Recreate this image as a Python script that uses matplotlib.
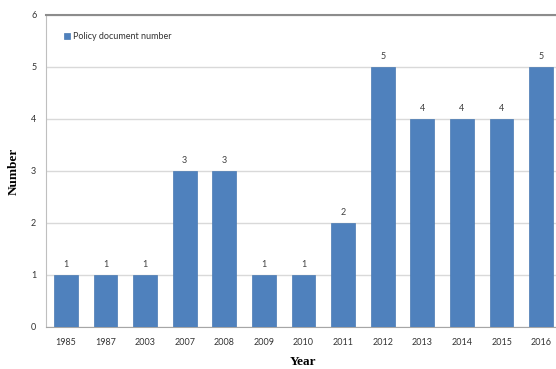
import matplotlib
matplotlib.use('Agg')
import matplotlib.pyplot as plt

# Policy documents issued per year
years = ['1985', '1987', '2003', '2007', '2008', '2009', '2010',
         '2011', '2012', '2013', '2014', '2015', '2016']
counts = [1, 1, 1, 3, 3, 1, 1, 2, 5, 4, 4, 4, 5]

plt.rcParams['font.family'] = ['Lato', 'DejaVu Sans']

fig = plt.figure(figsize=(5.56, 3.69), dpi=100)
ax = fig.add_axes([46 / 556, 1 - 327 / 369, 515 / 556, 312 / 369])

x = range(len(years))
bars = ax.bar(x, counts, width=0.6, color='#4F81BD', edgecolor='#4A7AB3',
              linewidth=0.5, label='Policy document number', zorder=3)

# Value labels on top of each bar
for rect, val in zip(bars, counts):
    ax.text(rect.get_x() + rect.get_width() / 2, val + 0.12, str(val),
            ha='center', va='bottom', fontsize=6.5, color='#404040')

ax.set_xlim(-0.5, len(years) - 0.5)
ax.set_ylim(0, 6)
ax.set_xticks(list(x))
ax.set_xticklabels(years)
ax.set_yticks(range(0, 7))
ax.tick_params(axis='both', length=0, labelsize=6.5, labelcolor='#333333')
ax.tick_params(axis='x', pad=8)
ax.tick_params(axis='y', pad=7)

ax.grid(axis='y', color='#d9d9d9', linewidth=1.0, zorder=0)
ax.spines['top'].set_color('#8c8c8c')
ax.spines['top'].set_linewidth(1.5)
ax.spines['left'].set_color('#bfbfbf')
ax.spines['bottom'].set_color('#a6a6a6')
ax.spines['right'].set_visible(False)

ax.set_xlabel('Year', family='Liberation Serif', fontweight='bold', fontsize=9.5)
ax.set_ylabel('Number', family='Liberation Serif', fontweight='bold', fontsize=9.5)
ax.xaxis.set_label_coords((303 - 46) / 515, -0.112)
ax.xaxis.label.set_va('center')
ax.yaxis.set_label_coords(-0.062, 0.5)
ax.yaxis.label.set_va('center')

ax.legend(loc='upper left', bbox_to_anchor=(0.02, 0.97), frameon=False,
          fontsize=6.5, handlelength=0.6, handleheight=0.6,
          handletextpad=0.3, labelcolor='#333333')

fig.savefig('out.png', dpi=100)
